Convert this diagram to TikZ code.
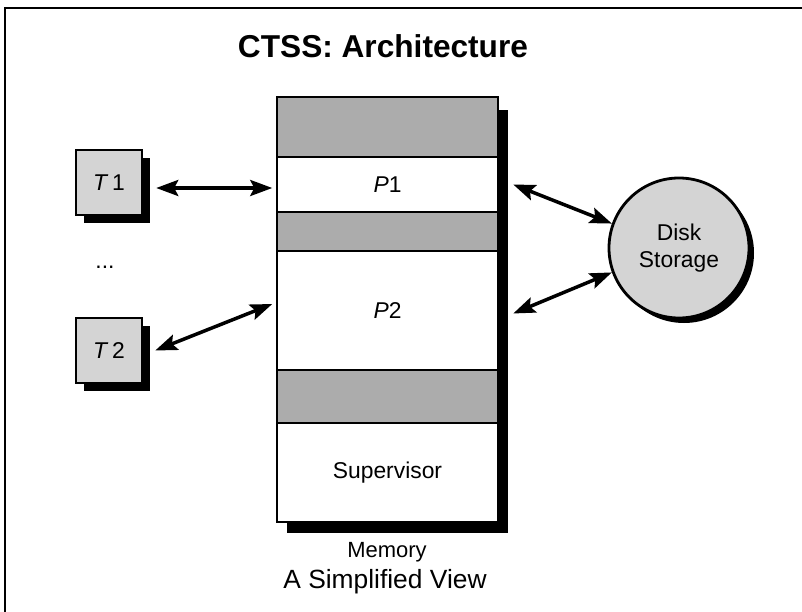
\documentclass[tikz,border=0pt]{standalone}
\usepackage{fontspec}
\setmainfont{Liberation Sans}
\usetikzlibrary{arrows.meta,shadows}
\definecolor{dotgray}{RGB}{212, 212, 212}
\definecolor{densegray}{RGB}{172, 172, 172}

\begin{document}
\begin{tikzpicture}[
        terminal/.style={draw=black, fill=dotgray, line width=1.4pt, inner sep=0pt,
            minimum width=1.32cm, minimum height=1.30cm, font=\fontsize{13}{15}\selectfont,
            drop shadow={shadow xshift=0.16cm, shadow yshift=-0.16cm, fill=black, opacity=1}},
        memband/.style={draw=black, fill=densegray, line width=1.4pt, inner sep=0pt, minimum width=4.42cm},
        memslot/.style={draw=black, fill=white, line width=1.4pt, inner sep=0pt, minimum width=4.42cm,
            font=\fontsize{13}{15}\selectfont},
        link/.style={line width=2pt, {Stealth[length=4.4mm, width=3.2mm, inset=0.8mm]}-{Stealth[length=4.4mm, width=3.2mm, inset=0.8mm]}}
    ]
            \useasboundingbox (0.00, 0.00) rectangle (16.04, -12.24);
            \draw[line width=1.1pt] (0.10, -12.24) -- (0.10, -0.16) -- (16.04, -0.16);

            \node[font=\fontsize{18}{21}\selectfont\bfseries] (title) at ( 7.66, -0.92) {CTSS: Architecture};

            \fill[black]                                 ( 5.74, -2.20) rectangle (10.16, -10.66);
            \node[memband, minimum height=1.20cm] (band1) at ( 7.75, -2.54) {};
            \node[memslot, minimum height=1.10cm] (p1)    at ( 7.75, -3.69) {\textit{P}1};
            \node[memband, minimum height=0.78cm] (band2) at ( 7.75, -4.63) {};
            \node[memslot, minimum height=2.38cm] (p2)    at ( 7.75, -6.21) {\textit{P}2};
            \node[memband, minimum height=1.06cm] (band3) at ( 7.75, -7.93) {};
            \node[memslot, minimum height=1.98cm] (super) at ( 7.75, -9.45) {Supervisor};
            \node[font=\fontsize{12.5}{14}\selectfont] (memlabel) at ( 7.74, -11.04) {Memory};
            \node[font=\fontsize{15}{17}\selectfont]   (caption)  at ( 7.70, -11.64) {A Simplified View};

            \node[terminal] (t1) at ( 2.18, -3.65) {\textit{T}\,1};
            \node[font=\fontsize{13}{15}\selectfont] (dots) at ( 2.10, -5.34) {...};
            \node[terminal] (t2) at ( 2.18, -7.01) {\textit{T}\,2};

            \node[circle, draw=black, fill=dotgray, line width=1.6pt, minimum size=2.80cm, inner sep=0pt,
                  align=center, font=\fontsize{13}{15}\selectfont,
                  drop shadow={shadow xshift=0.10cm, shadow yshift=-0.10cm, fill=black, opacity=1}]
                 (disk) at (13.58, -4.96) {Disk\\Storage};

            \draw[link] ([xshift=2.6mm, yshift=-1.1mm]t1.east) -- ([xshift=-0.7mm, yshift=-0.7mm]p1.west);
            \draw[link] ([xshift=2.4mm]t2.east)                 -- ([xshift=-0.7mm, yshift=1.3mm]p2.west);
            \draw[link] ([xshift=2.8mm]p1.east)                 -- (disk.160);
            \draw[link] ([xshift=2.8mm, yshift=-0.6mm]p2.east)  -- (disk.200);
        \end{tikzpicture}
\end{document}
